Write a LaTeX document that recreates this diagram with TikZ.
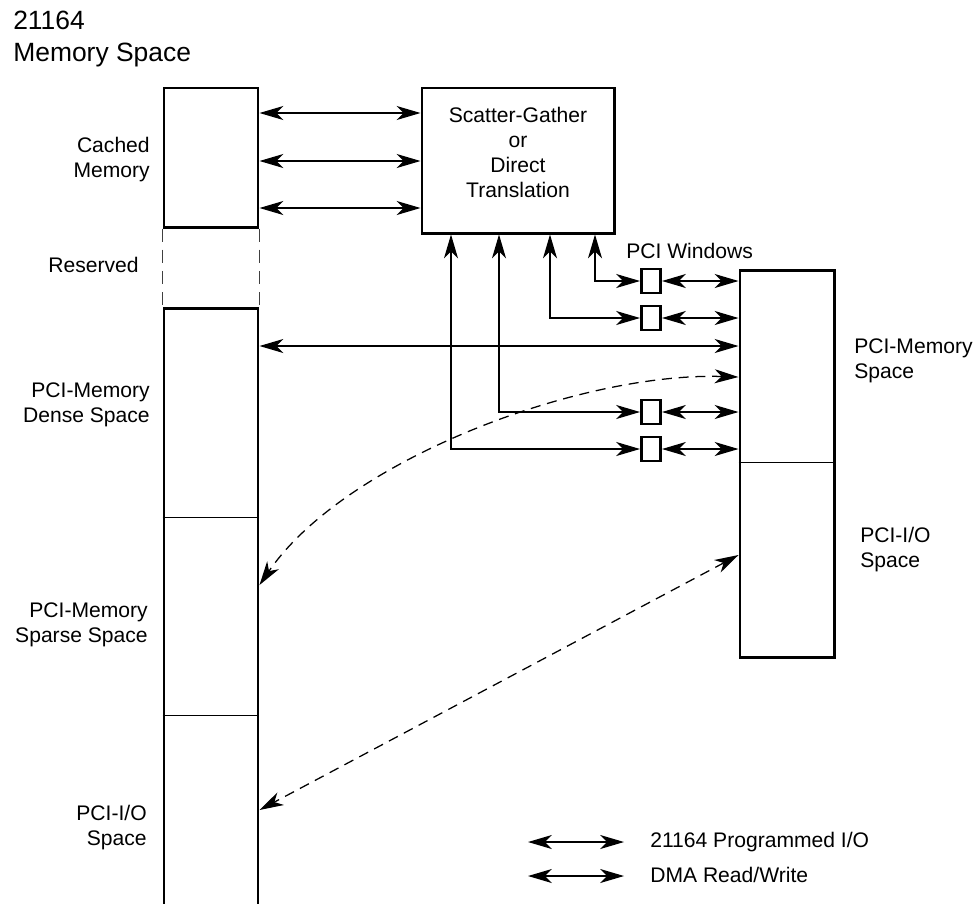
\documentclass[tikz,border=0pt]{standalone}
\usepackage{fontspec}
\setmainfont{Liberation Sans}
\usetikzlibrary{arrows.meta}

\begin{document}
\begin{tikzpicture}[x=0.025cm, y=-0.025cm, >={Stealth[length=17pt,width=10pt,inset=5pt]},
    every node/.style={font=\fontsize{15}{17.8}\selectfont},
    box/.style={draw, rectangle, line width=2.1pt, inner sep=0pt},
    wnd/.style={box, minimum width=0.475cm, minimum height=0.6cm},
    lbl/.style={inner sep=0pt, align=right},
    link/.style={<->, line width=0.9pt},
    dlink/.style={<->, line width=0.9pt, dash pattern=on 0.25cm off 0.17cm},
    resline/.style={line width=0.9pt, black!75, dash pattern=on 0.33cm off 0.2cm},
    divider/.style={line width=0.7pt}]
    \useasboundingbox (0,0) rectangle (977,903);
    \node[anchor=base west, inner sep=0pt, font=\fontsize{18.8}{22.8}\selectfont] (title1) at (13,29) {21164};
    \node[anchor=base west, inner sep=0pt, font=\fontsize{18.8}{22.8}\selectfont] (title2) at (13,61) {Memory Space};
    \node[box, minimum width=2.35cm, minimum height=3.475cm] (cached) at (211,157.5) {};
    \node[box, minimum width=2.35cm, minimum height=15.775cm] (memcol) at (211,624.5) {};
    \node[box, minimum width=4.8cm, minimum height=3.625cm] (sg) at (518,160.5) {};
    \node[align=center, inner sep=0pt] (sgtext) at (518,152) {Scatter-Gather\\or\\Direct\\Translation};
    \node[box, minimum width=2.35cm, minimum height=9.65cm] (pcibox) at (787,464) {};
    \foreach \i/\y in {1/281,2/318,3/412,4/449}
        \node[wnd] (win\i) at (651,\y) {};
    \draw[divider] (memcol.west |- 0,517) -- (memcol.east |- 0,517);
    \draw[divider] (memcol.west |- 0,715) -- (memcol.east |- 0,715);
    \draw[divider] (pcibox.west |- 0,462) -- (pcibox.east |- 0,462);
    \draw[resline] (cached.south west) -- (cached.south west |- memcol.north);
    \draw[resline] (cached.south east) -- (cached.south east |- memcol.north);
    \foreach \y in {113,161,208}
        \draw[link] (cached.east |- 0,\y) -- (sg.west |- 0,\y);
    \foreach \i/\x in {1/595,2/550,3/499,4/451}
        \draw[link] (sg.south -| \x,0) |- (win\i.west);
    \foreach \i in {1,...,4}
        \draw[link] (win\i.east) -- (pcibox.west |- win\i.east);
    \draw[link] (memcol.east |- 0,346) -- (pcibox.west |- 0,346);
    \draw[dlink] (pcibox.west |- 0,377) .. controls (580,372) and (345,460) .. (memcol.east |- 0,585);
    \draw[dlink] (pcibox.west |- 0,555) -- (memcol.east |- 0,810);
    \node[lbl, anchor=east] (cachedlbl) at (150,160) {Cached\\Memory};
    \node[lbl, anchor=base east] (reslbl) at (139,272) {Reserved};
    \node[lbl, anchor=east] (denselbl) at (150,405) {PCI-Memory\\Dense Space};
    \node[lbl, anchor=east] (sparselbl) at (148,625) {PCI-Memory\\Sparse Space};
    \node[lbl, anchor=east] (iolbl) at (147,828) {PCI-I/O\\Space};
    \node[lbl, align=left, anchor=west] (pcimemlbl) at (854,361) {PCI-Memory\\Space};
    \node[lbl, align=left, anchor=west] (pciiolbl) at (860,550) {PCI-I/O\\Space};
    \node[lbl, anchor=base west] (winlbl) at (626,258) {PCI Windows};
    \coordinate (pioa) at (528,842);
    \coordinate (piob) at (624,842);
    \draw[link] (pioa) -- (piob);
    \node[lbl, anchor=base west] (piolbl) at (650,847) {21164 Programmed I/O};
    \coordinate (dmaa) at (528,876);
    \coordinate (dmab) at (624,876);
    \draw[link] (dmaa) -- (dmab);
    \node[lbl, anchor=base west] (dmalbl) at (650,882) {DMA Read/Write};
\end{tikzpicture}
\end{document}
